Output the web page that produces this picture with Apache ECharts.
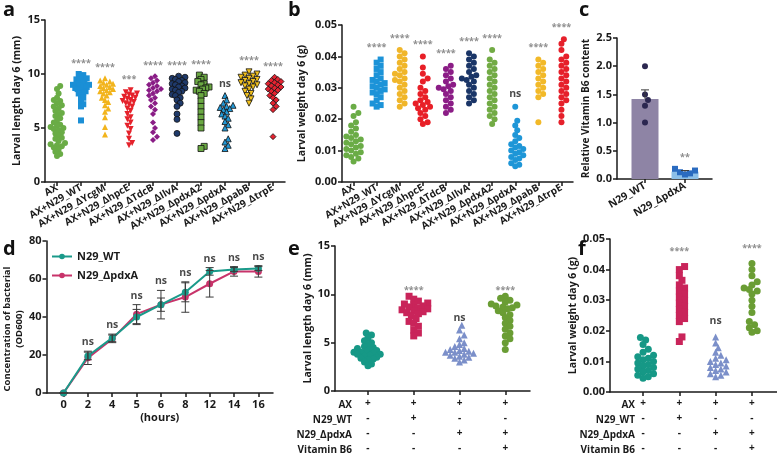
<!DOCTYPE html>
<html>
<head>
<meta charset="utf-8">
<script src="https://cdn.jsdelivr.net/npm/echarts@6/dist/echarts.min.js"></script>
<style>
  html, body { margin: 0; padding: 0; background: #fff; }
  #main { width: 777px; height: 456px; }
</style>
</head>
<body>
<div id="main"></div>
<script>
// ---- panel a : larval length day 6 (mm)
const aCats = ['AX', 'AX+N29_WT', 'AX+N29_ΔYcgM', 'AX+N29_ΔhpcE', 'AX+N29_ΔTdcB', 'AX+N29_ΔIlvA', 'AX+N29_ΔpdxA2', 'AX+N29_ΔpdxA', 'AX+N29_ΔpabB', 'AX+N29_ΔtrpE'];
const aSig = ['', '****', '****', '***', '****', '****', '****', 'ns', '****', '****'];
const a_AX = [8.9, 8.6, 8.2, 7.8, 7.6, 7.5, 7.3, 7.1, 7.0, 6.8, 6.6, 6.4, 6.3, 6.1, 5.9, 5.7, 5.5, 5.3, 5.2, 5.1, 5.0, 4.9, 4.8, 4.6, 4.5, 4.3, 4.1, 4.0, 3.8, 3.6, 3.5, 3.4, 3.3, 3.2, 3.0, 2.8, 2.6, 2.4];
const a_WT = [10.0, 9.9, 9.8, 9.6, 9.5, 9.4, 9.3, 9.2, 9.1, 9.0, 9.0, 8.9, 8.8, 8.8, 8.7, 8.6, 8.5, 8.4, 8.3, 8.2, 8.0, 7.8, 7.5, 7.2, 7.0, 5.7];
const a_YcgM = [9.6, 9.4, 9.3, 9.2, 9.1, 9.0, 8.9, 8.8, 8.7, 8.6, 8.5, 8.4, 8.3, 8.2, 8.0, 7.8, 7.6, 7.4, 7.1, 6.8, 6.5, 6.0, 5.1, 4.4];
const a_hpcE = [8.5, 8.3, 8.2, 8.1, 8.0, 7.9, 7.8, 7.7, 7.6, 7.5, 7.4, 7.3, 7.2, 7.0, 6.8, 6.6, 6.3, 6.0, 5.8, 5.5, 5.2, 4.9, 4.5, 4.0, 3.6, 3.4];
const a_TdcB = [9.8, 9.6, 9.4, 9.2, 9.0, 8.9, 8.7, 8.6, 8.5, 8.4, 8.2, 8.0, 7.8, 7.6, 7.3, 7.0, 6.7, 6.3, 5.5, 5.0, 4.6, 4.2, 3.9];
const a_IlvA = [9.8, 9.7, 9.6, 9.5, 9.4, 9.3, 9.2, 9.1, 9.0, 8.9, 8.8, 8.7, 8.6, 8.5, 8.4, 8.3, 8.1, 8.0, 7.8, 7.6, 7.3, 7.0, 6.3, 5.8, 4.5];
const a_pdxA2 = [9.9, 9.7, 9.5, 9.3, 9.1, 9.0, 8.8, 8.7, 8.6, 8.5, 8.4, 8.2, 8.0, 7.5, 7.0, 6.5, 6.0, 5.5, 5.0, 3.3, 3.1];
const a_pdxA = [8.0, 7.6, 7.3, 7.1, 7.0, 6.9, 6.8, 6.7, 6.5, 6.3, 6.1, 5.9, 5.6, 5.3, 5.0, 4.0, 3.7, 3.4, 3.1];
const a_pabB = [10.2, 10.0, 9.9, 9.8, 9.7, 9.6, 9.5, 9.4, 9.3, 9.2, 9.1, 9.0, 8.9, 8.8, 8.6, 8.4, 8.2, 8.0, 7.7, 7.3];
const a_trpE = [9.7, 9.5, 9.4, 9.3, 9.2, 9.1, 9.0, 8.9, 8.8, 8.7, 8.6, 8.5, 8.4, 8.2, 8.0, 7.8, 7.6, 7.3, 7.0, 6.7, 4.2];

// ---- panel b : larval weight day 6 (g)
const bCats = aCats;
const bSig = ['', '****', '****', '****', '****', '****', '****', 'ns', '****', '****'];
const b_AX = [0.024, 0.022, 0.021, 0.019, 0.018, 0.017, 0.016, 0.015, 0.0145, 0.014, 0.0135, 0.013, 0.0125, 0.012, 0.0115, 0.011, 0.0105, 0.010, 0.0095, 0.009, 0.0085, 0.008, 0.0075, 0.0065];
const b_WT = [0.039, 0.038, 0.037, 0.036, 0.035, 0.034, 0.033, 0.0325, 0.032, 0.0315, 0.031, 0.0305, 0.030, 0.0295, 0.029, 0.0285, 0.028, 0.027, 0.026, 0.025, 0.0245, 0.024];
const b_YcgM = [0.042, 0.041, 0.040, 0.039, 0.038, 0.037, 0.036, 0.035, 0.0345, 0.034, 0.033, 0.0325, 0.032, 0.031, 0.030, 0.029, 0.028, 0.027, 0.026, 0.025, 0.024];
const b_hpcE = [0.040, 0.0365, 0.0345, 0.033, 0.032, 0.030, 0.029, 0.028, 0.027, 0.026, 0.0255, 0.025, 0.0245, 0.024, 0.0235, 0.023, 0.022, 0.021, 0.020, 0.019, 0.0185];
const b_TdcB = [0.037, 0.036, 0.035, 0.034, 0.033, 0.032, 0.031, 0.0305, 0.030, 0.0295, 0.029, 0.028, 0.027, 0.026, 0.025, 0.024, 0.023, 0.022];
const b_IlvA = [0.041, 0.040, 0.039, 0.038, 0.037, 0.036, 0.035, 0.034, 0.0335, 0.033, 0.0325, 0.032, 0.031, 0.030, 0.029, 0.028, 0.027, 0.026, 0.025];
const b_pdxA2 = [0.042, 0.039, 0.038, 0.037, 0.036, 0.035, 0.034, 0.033, 0.032, 0.031, 0.030, 0.029, 0.028, 0.027, 0.026, 0.025, 0.024, 0.023, 0.022, 0.021, 0.020, 0.0185];
const b_pdxA = [0.024, 0.0195, 0.018, 0.0165, 0.015, 0.014, 0.013, 0.012, 0.0115, 0.011, 0.0105, 0.010, 0.0095, 0.009, 0.0085, 0.008, 0.0075, 0.007, 0.006, 0.0055, 0.005];
const b_pabB = [0.039, 0.038, 0.037, 0.036, 0.035, 0.034, 0.033, 0.032, 0.031, 0.030, 0.029, 0.028, 0.027, 0.019];
const b_trpE = [0.0455, 0.044, 0.042, 0.040, 0.039, 0.038, 0.037, 0.036, 0.035, 0.034, 0.033, 0.032, 0.031, 0.030, 0.029, 0.028, 0.027, 0.026, 0.025, 0.023, 0.021, 0.019];

// ---- panel c : relative vitamin B6 content
const cCats = ['N29_WT', 'N29_ΔpdxA'];
const cMean = [1.42, 0.13];
const cSem = [0.16, 0.02];
const cSig = ['', '**'];
const c_WT = [2.0, 1.5, 1.4, 1.3, 1.0];
const c_pdxA = [0.18, 0.15, 0.12, 0.10, 0.08];

// ---- panel d : growth curve
const dHours = ['0', '2', '4', '5', '6', '8', '12', '14', '16'];
const dWT = [0, 19.5, 29, 40, 46.5, 53, 64, 65, 65.5];
const dWTerr = [0, 2, 2, 4, 7.5, 5, 2, 1, 1];
const dPdxA = [0, 18.5, 28.5, 41.5, 46.5, 50.5, 57.5, 64, 64];
const dPdxAerr = [0, 3.5, 2, 5, 3.5, 8, 7, 2.5, 3];
const dSig = ['', 'ns', 'ns', 'ns', 'ns', 'ns', 'ns', 'ns', 'ns'];

// ---- panels e / f : rescue experiment
const rowNames = ['AX', 'N29_WT', 'N29_ΔpdxA', 'Vitamin B6'];
const rowAX = ['+', '+', '+', '+'];
const rowWT = ['-', '+', '-', '-'];
const rowPdxA = ['-', '-', '+', '+'];
const rowB6 = ['-', '-', '-', '+'];
const efSig = ['', '****', 'ns', '****'];
const e_AX = [6.0, 5.8, 5.5, 5.2, 5.0, 4.8, 4.6, 4.5, 4.4, 4.3, 4.2, 4.1, 4.0, 4.0, 3.9, 3.8, 3.8, 3.7, 3.6, 3.5, 3.4, 3.3, 3.2, 3.0, 2.8, 2.6];
const e_WT = [9.8, 9.5, 9.3, 9.1, 9.0, 8.9, 8.8, 8.7, 8.6, 8.5, 8.4, 8.3, 8.2, 8.1, 8.0, 7.8, 7.5, 7.2, 7.0, 6.7, 6.3, 6.0, 5.7];
const e_pdxA = [6.8, 6.3, 5.8, 5.4, 5.0, 4.8, 4.6, 4.4, 4.3, 4.2, 4.1, 4.0, 4.0, 3.9, 3.8, 3.7, 3.6, 3.5, 3.4, 3.2, 3.0];
const e_B6 = [9.8, 9.6, 9.4, 9.2, 9.0, 8.9, 8.8, 8.7, 8.6, 8.5, 8.3, 8.1, 7.9, 7.6, 7.3, 7.0, 6.7, 6.4, 6.0, 5.7, 5.4, 5.0, 4.3];
const f_AX = [0.0178, 0.017, 0.0155, 0.014, 0.013, 0.012, 0.0115, 0.011, 0.0105, 0.010, 0.0095, 0.009, 0.0085, 0.008, 0.0075, 0.007, 0.0065, 0.006, 0.0055, 0.005, 0.0045];
const f_WT = [0.041, 0.040, 0.038, 0.0365, 0.035, 0.034, 0.033, 0.032, 0.031, 0.030, 0.029, 0.028, 0.027, 0.026, 0.025, 0.024, 0.023, 0.018, 0.0165];
const f_pdxA = [0.018, 0.016, 0.0145, 0.013, 0.012, 0.011, 0.0105, 0.010, 0.0095, 0.009, 0.0085, 0.008, 0.0075, 0.007, 0.0065, 0.006, 0.0055, 0.005];
const f_B6 = [0.042, 0.040, 0.038, 0.036, 0.035, 0.034, 0.0335, 0.033, 0.032, 0.030, 0.028, 0.026, 0.023, 0.022, 0.021, 0.020, 0.0195];

const aGroups = [a_AX, a_WT, a_YcgM, a_hpcE, a_TdcB, a_IlvA, a_pdxA2, a_pdxA, a_pabB, a_trpE];
const bGroups = [b_AX, b_WT, b_YcgM, b_hpcE, b_TdcB, b_IlvA, b_pdxA2, b_pdxA, b_pabB, b_trpE];
const eGroups = [e_AX, e_WT, e_pdxA, e_B6];
const fGroups = [f_AX, f_WT, f_pdxA, f_B6];

// marker styles (s: symbol, r: rotation, b: black border)
const aStyle = [
    { c: '#6aac46', s: 'circle' }, { c: '#1b8fd6', s: 'rect' }, { c: '#f2b41c', s: 'triangle' },
    { c: '#e5222b', s: 'triangle', r: 180 }, { c: '#8a1d86', s: 'diamond' },
    { c: '#1f3a6b', s: 'circle', b: 1 }, { c: '#6aa842', s: 'rect', b: 1 }, { c: '#2398d5', s: 'triangle', b: 1 },
    { c: '#f3c21d', s: 'triangle', r: 180, b: 1 }, { c: '#e42230', s: 'diamond', b: 1 }
];
const bStyle = [
    { c: '#6aac46', s: 'circle' }, { c: '#1c93d8', s: 'rect' }, { c: '#f0b62a', s: 'circle' },
    { c: '#e81f27', s: 'circle' }, { c: '#8b1d86', s: 'circle' }, { c: '#1a3567', s: 'circle' },
    { c: '#72ab45', s: 'circle' }, { c: '#1e96d7', s: 'circle' }, { c: '#f2b928', s: 'circle' }, { c: '#e6202b', s: 'circle' }
];
const efStyle = [
    { c: '#169886', s: 'circle' }, { c: '#c9245a', s: 'rect' }, { c: '#7b8fc9', s: 'triangle' }, { c: '#6a9d34', s: 'circle' }
];

const FONT = 'Open Sans';
const INK = '#1a1a1a';
const tickTxt = { fontFamily: FONT, fontWeight: 'bold', fontSize: 11, color: INK };

// deterministic beeswarm: horizontal pixel offsets, squeezed to a max half-width
function swarm(vals, ppu, d, maxHalf) {
    const order = vals.map((v, i) => i).sort((p, q) => vals[p] - vals[q]);
    const placed = [];
    const off = new Array(vals.length).fill(0);
    const step = d * 0.5;
    order.forEach(i => {
        const y = vals[i] * ppu;
        for (let k = 0; k < 60; k++) {
            const x = (k % 2 ? 1 : -1) * Math.ceil(k / 2) * step;
            if (placed.every(p => (p[0] - x) ** 2 + (p[1] - y) ** 2 >= d * d)) {
                placed.push([x, y]);
                off[i] = x;
                break;
            }
        }
    });
    const widest = Math.max(...off.map(Math.abs));
    const k = widest > maxHalf ? maxHalf / widest : 1;
    return off.map(o => o * k);
}

function dotSeries(gi, idx, vals, ppu, st, size, thr, maxHalf) {
    const off = swarm(vals, ppu, size * thr, maxHalf);
    return {
        type: 'scatter', xAxisIndex: gi, yAxisIndex: gi,
        symbol: st.s, symbolRotate: st.r || 0, symbolSize: size,
        itemStyle: { color: st.c, borderColor: st.b ? '#111' : st.c, borderWidth: st.b ? 0.8 : 0, opacity: 1 },
        data: vals.map((v, i) => ({ value: [idx, v], symbolOffset: [off[i], 0] })),
        z: 3
    };
}

function sigSeries(gi, groups, sig, dist) {
    return {
        type: 'scatter', xAxisIndex: gi, yAxisIndex: gi, symbolSize: 1, silent: true,
        itemStyle: { color: 'rgba(0,0,0,0)' },
        data: groups.map((g, i) => ({
            value: [i, Math.max(...g)],
            label: {
                show: !!sig[i], formatter: sig[i], position: 'top', distance: dist,
                color: sig[i] === 'ns' ? INK : '#707070', fontFamily: FONT, fontWeight: 'bold',
                fontSize: sig[i] === 'ns' ? 10.5 : 9
            }
        })),
        z: 4
    };
}

function yAx(gi, max, interval, name, gap, dec, nameSize, namePad) {
    return {
        type: 'value', gridIndex: gi, min: 0, max: max, interval: interval,
        name: name, nameLocation: 'middle', nameGap: gap,
        nameTextStyle: {
            fontFamily: FONT, fontWeight: 'bold', fontSize: nameSize || 10.5, color: INK, lineHeight: 12,
            padding: namePad || 0
        },
        axisLine: { show: true, onZero: false, lineStyle: { color: INK, width: 1.5 } },
        axisTick: { show: true, length: 4, lineStyle: { color: INK, width: 1.5 } },
        splitLine: { show: false },
        axisLabel: { ...tickTxt, margin: 5, formatter: v => v.toFixed(dec) }
    };
}

const xLine = { show: true, onZero: false, lineStyle: { color: INK, width: 1.5 } };
const xTick = { show: true, length: 4, lineStyle: { color: INK, width: 1.5 } };

// error bar drawn from the named arrays by data index
function makeErr(xs, lo, hi, lowCap) {
    return function (params, api) {
        const i = params.dataIndex;
        const top = api.coord([xs[i], hi[i]]);
        const bot = api.coord([xs[i], lo[i]]);
        const w = 4;
        const st = { stroke: '#3a3a3a', lineWidth: 1 };
        const kids = [
            { type: 'line', shape: { x1: top[0], y1: top[1], x2: bot[0], y2: bot[1] }, style: st },
            { type: 'line', shape: { x1: top[0] - w, y1: top[1], x2: top[0] + w, y2: top[1] }, style: st }
        ];
        if (lowCap) kids.push({ type: 'line', shape: { x1: bot[0] - w, y1: bot[1], x2: bot[0] + w, y2: bot[1] }, style: st });
        return { type: 'group', children: kids };
    };
}

const rowCol = v => [rowAX, rowWT, rowPdxA, rowB6].map(r => r[Math.round(v)]).join('\n');

const chart = echarts.init(document.getElementById('main'));

const series = [];
// a
aGroups.forEach((g, i) => series.push(dotSeries(0, i, g, 162 / 15, aStyle[i], 6, 0.8, 8)));
series.push(sigSeries(0, aGroups, aSig, 6));
// b
bGroups.forEach((g, i) => series.push(dotSeries(1, i, g, 157 / 0.05, bStyle[i], 6, 0.8, 8)));
series.push(sigSeries(1, bGroups, bSig, 7));
// c
series.push({
    type: 'bar', xAxisIndex: 2, yAxisIndex: 2, barWidth: 27,
    data: cMean.map((m, i) => ({ value: [i, m], itemStyle: { color: i === 0 ? '#8e84a5' : '#8cbfe8' } }))
});
const cX = cMean.map((m, i) => i);
const cHi = cMean.map((m, i) => m + cSem[i]);
series.push({
    type: 'custom', xAxisIndex: 2, yAxisIndex: 2, z: 5,
    renderItem: makeErr(cX, cMean, cHi, false),
    data: cMean.map((m, i) => [i, m])
});
series.push(dotSeries(2, 0, c_WT, 141 / 2.5, { c: '#2b2750', s: 'circle' }, 6, 1, 9));
series.push(dotSeries(2, 1, c_pdxA, 141 / 2.5, { c: '#2a6bc0', s: 'rect' }, 6, 1, 10));
series.push(sigSeries(2, [c_WT, c_pdxA], cSig, 6));
// d
series.push({
    type: 'line', name: 'N29_WT', xAxisIndex: 3, yAxisIndex: 3,
    data: dWT.map((v, i) => [i, v]), symbol: 'circle', symbolSize: 7,
    lineStyle: { color: '#1a9a8a', width: 2 }, itemStyle: { color: '#1a9a8a' }, z: 4
});
series.push({
    type: 'line', name: 'N29_ΔpdxA', xAxisIndex: 3, yAxisIndex: 3,
    data: dPdxA.map((v, i) => [i, v]), symbol: 'circle', symbolSize: 7,
    lineStyle: { color: '#c8336a', width: 2 }, itemStyle: { color: '#c8336a' }, z: 3
});
const dX = dWT.map((v, i) => i).concat(dPdxA.map((v, i) => i));
const dLo = dWT.map((v, i) => v - dWTerr[i]).concat(dPdxA.map((v, i) => v - dPdxAerr[i]));
const dHi = dWT.map((v, i) => v + dWTerr[i]).concat(dPdxA.map((v, i) => v + dPdxAerr[i]));
series.push({
    type: 'custom', xAxisIndex: 3, yAxisIndex: 3, z: 5,
    renderItem: makeErr(dX, dLo, dHi, true),
    data: dX.map((x, i) => [x, dHi[i]])
});
series.push(sigSeries(3, dWT.map((v, i) => [v + dWTerr[i], dPdxA[i] + dPdxAerr[i]]), dSig, 3));
// e
eGroups.forEach((g, i) => series.push(dotSeries(4, i, g, 147 / 15, efStyle[i], 7, 0.75, 14)));
series.push(sigSeries(4, eGroups, efSig, 1));
// f
fGroups.forEach((g, i) => series.push(dotSeries(5, i, g, 155 / 0.05, efStyle[i], 7, 0.75, 11)));
series.push(sigSeries(5, fGroups, efSig, 10));

const catX = (gi, cats) => ({
    type: 'category', gridIndex: gi, data: cats,
    axisLine: xLine, axisTick: { ...xTick, alignWithLabel: true },
    axisLabel: { ...tickTxt, fontSize: 10, rotate: 30, interval: 0, margin: 5 }
});

const option = {
    animation: false,
    backgroundColor: '#fff',
    grid: [
        { left: 45, top: 20, width: 240, height: 162 },
        { left: 342, top: 25, width: 231, height: 157 },
        { left: 617, top: 38, width: 95, height: 141 },
        { left: 43, top: 241, width: 230, height: 152 },
        { left: 335, top: 246, width: 195, height: 147 },
        { left: 610, top: 239, width: 167, height: 155 }
    ],
    xAxis: [
        catX(0, aCats),
        catX(1, bCats),
        {
            type: 'value', gridIndex: 2, min: -0.7, max: 1.675, splitLine: { show: false },
            axisLine: xLine, axisTick: { ...xTick, customValues: [0, 1] },
            axisLabel: { ...tickTxt, fontSize: 10.5, rotate: 30, margin: 6, customValues: [0, 1], formatter: v => cCats[Math.round(v)] }
        },
        {
            type: 'value', gridIndex: 3, min: -0.7, max: 8.6, splitLine: { show: false },
            name: '(hours)', nameLocation: 'middle', nameGap: 19,
            nameTextStyle: { fontFamily: FONT, fontWeight: 'bold', fontSize: 11, color: INK },
            axisLine: xLine, axisTick: { ...xTick, customValues: dHours.map((h, i) => i) },
            axisLabel: { ...tickTxt, margin: 6, customValues: dHours.map((h, i) => i), formatter: v => dHours[Math.round(v)] }
        },
        {
            type: 'value', gridIndex: 4, min: -0.72, max: 3.54, splitLine: { show: false },
            axisLine: xLine, axisTick: { ...xTick, customValues: [0, 1, 2, 3] },
            axisLabel: { ...tickTxt, fontSize: 10, lineHeight: 15, margin: 5, customValues: [0, 1, 2, 3], formatter: rowCol }
        },
        {
            type: 'value', gridIndex: 5, min: -0.91, max: 3.69, splitLine: { show: false },
            axisLine: xLine, axisTick: { ...xTick, customValues: [0, 1, 2, 3] },
            axisLabel: { ...tickTxt, fontSize: 10, lineHeight: 15, margin: 4, customValues: [0, 1, 2, 3], formatter: rowCol }
        }
    ],
    yAxis: [
        yAx(0, 15, 5, 'Larval length day 6 (mm)', 22, 0),
        yAx(1, 0.05, 0.01, 'Larval weight day 6 (g)', 34, 2),
        yAx(2, 2.5, 0.5, 'Relative Vitamin B6 content', 24, 1, 10),
        yAx(3, 80, 20, 'Concentration of bacterial\n(OD600)', 18, 0, 9.5, [0, 24, 0, 0]),
        yAx(4, 15, 5, 'Larval length day 6 (mm)', 14, 0),
        yAx(5, 0.05, 0.01, 'Larval weight day 6 (g)', 24, 2)
    ],
    legend: {
        data: ['N29_WT', 'N29_ΔpdxA'], orient: 'vertical', left: 46, top: 246,
        itemGap: 8, itemWidth: 20, itemHeight: 7,
        textStyle: { fontFamily: FONT, fontWeight: 'bold', fontSize: 11, color: INK }
    },
    graphic: [
        ...[['a', 3, 0], ['b', 288, 0], ['c', 579, 0], ['d', 3, 239], ['e', 288, 239], ['f', 578, 239]].map(p => ({
            type: 'text', x: p[1], y: p[2],
            style: { text: p[0], font: 'bold 20px "' + FONT + '"', fill: '#111', verticalAlign: 'top' }
        })),
        ...[[352, 398], [635, 398]].map(p => ({
            type: 'text', x: p[0], y: p[1],
            style: {
                text: rowNames.join('\n'), font: 'bold 10px "' + FONT + '"', lineHeight: 15,
                fill: INK, align: 'right', verticalAlign: 'top'
            }
        }))
    ],
    series: series
};

chart.setOption(option);
</script>
</body>
</html>
